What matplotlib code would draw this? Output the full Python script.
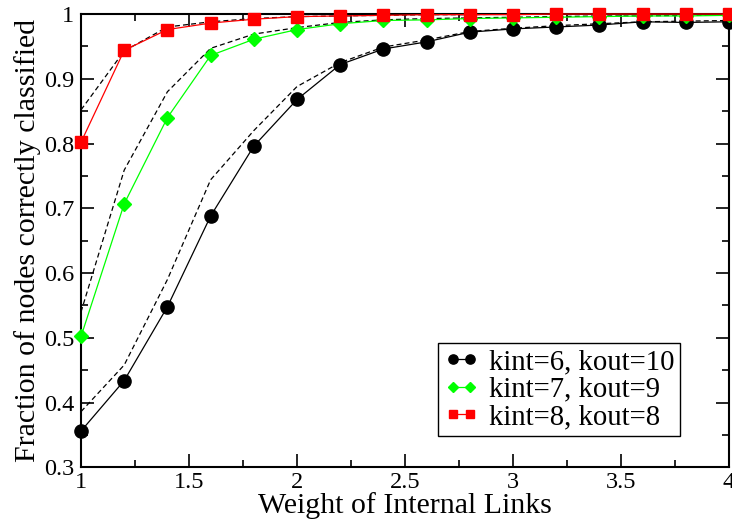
import numpy as np
import matplotlib
matplotlib.use("Agg")
import matplotlib.pyplot as plt
from matplotlib.ticker import MultipleLocator, FormatStrFormatter

# ---- DATA
weight = [1.0, 1.2, 1.4, 1.6, 1.8, 2.0, 2.2, 2.4, 2.6, 2.8, 3.0, 3.2, 3.4, 3.6, 3.8, 4.0]

k6_sim  = [0.356, 0.434, 0.548, 0.688, 0.796, 0.868, 0.922, 0.946, 0.957, 0.972,
           0.977, 0.980, 0.983, 0.988, 0.987, 0.988]
k6_th   = [0.386, 0.458, 0.590, 0.744, 0.820, 0.888, 0.925, 0.949, 0.960, 0.973,
           0.978, 0.982, 0.985, 0.988, 0.989, 0.990]

k7_sim  = [0.502, 0.707, 0.840, 0.936, 0.961, 0.976, 0.985, 0.990, 0.991, 0.993,
           0.994, 0.995, 0.996, 0.997, 0.997, 0.998]
k7_th   = [0.540, 0.759, 0.880, 0.947, 0.969, 0.979, 0.987, 0.991, 0.993, 0.994,
           0.995, 0.996, 0.997, 0.997, 0.998, 0.998]

k8_sim  = [0.802, 0.944, 0.976, 0.986, 0.992, 0.996, 0.997, 0.998, 0.999, 0.999,
           0.999, 1.000, 1.000, 1.000, 1.000, 1.000]
k8_th   = [0.852, 0.943, 0.980, 0.988, 0.993, 0.996, 0.997, 0.998, 0.999, 0.999,
           1.000, 1.000, 1.000, 1.000, 1.000, 1.000]

labels = ["kint=6, kout=10", "kint=7, kout=9", "kint=8, kout=8"]

# ---- PLOT
plt.rcParams['font.family'] = ['Liberation Serif', 'DejaVu Serif']

fig = plt.figure(figsize=(7.32, 5.25), dpi=100)
ax = fig.add_axes([0.1107, 0.1099, 0.8852, 0.8634])

# dashed reference curves
for yy in [k6_th, k7_th, k8_th]:
    ax.plot(weight, yy, color='black', linestyle=(0, (4, 2.5)), linewidth=0.9, clip_on=False)

ax.plot(weight, k6_sim, color='black', linewidth=0.9, marker='o', markersize=9.5,
        label=labels[0], clip_on=False, zorder=3)
ax.plot(weight, k7_sim, color='#00ff00', linewidth=0.9, marker='D', markersize=7,
        label=labels[1], clip_on=False, zorder=4)
ax.plot(weight, k8_sim, color='#ff0000', linewidth=0.9, marker='s', markersize=9,
        label=labels[2], clip_on=False, zorder=5)

ax.set_xlim(1, 4)
ax.set_ylim(0.3, 1)

ax.xaxis.set_major_locator(MultipleLocator(0.5))
ax.xaxis.set_minor_locator(MultipleLocator(0.25))
ax.yaxis.set_major_locator(MultipleLocator(0.1))
ax.yaxis.set_minor_locator(MultipleLocator(0.05))
ax.xaxis.set_major_formatter(FormatStrFormatter('%g'))
ax.yaxis.set_major_formatter(FormatStrFormatter('%g'))

ax.tick_params(which='both', direction='in', top=True, right=True, width=1.2)
ax.tick_params(which='major', length=9.5, labelsize=17.5)
ax.tick_params(axis='x', which='major', pad=3.5)
ax.tick_params(axis='y', which='major', pad=5)
ax.tick_params(which='minor', length=5)
for s in ax.spines.values():
    s.set_linewidth(1.5)

ax.set_xlabel('Weight of Internal Links', fontsize=21.5, labelpad=-1)
ax.set_ylabel('Fraction of nodes correctly classified', fontsize=21.5, labelpad=2)

leg = ax.legend(loc='lower right', bbox_to_anchor=(0.924, 0.069), borderaxespad=0,
                fontsize=20.7, numpoints=2, handlelength=1.2, handletextpad=0.35,
                markerscale=0.7, fancybox=False, framealpha=1, edgecolor='black',
                borderpad=0.2, labelspacing=0.05)
leg.get_frame().set_linewidth(1.0)

fig.savefig('out.png', dpi=100)
